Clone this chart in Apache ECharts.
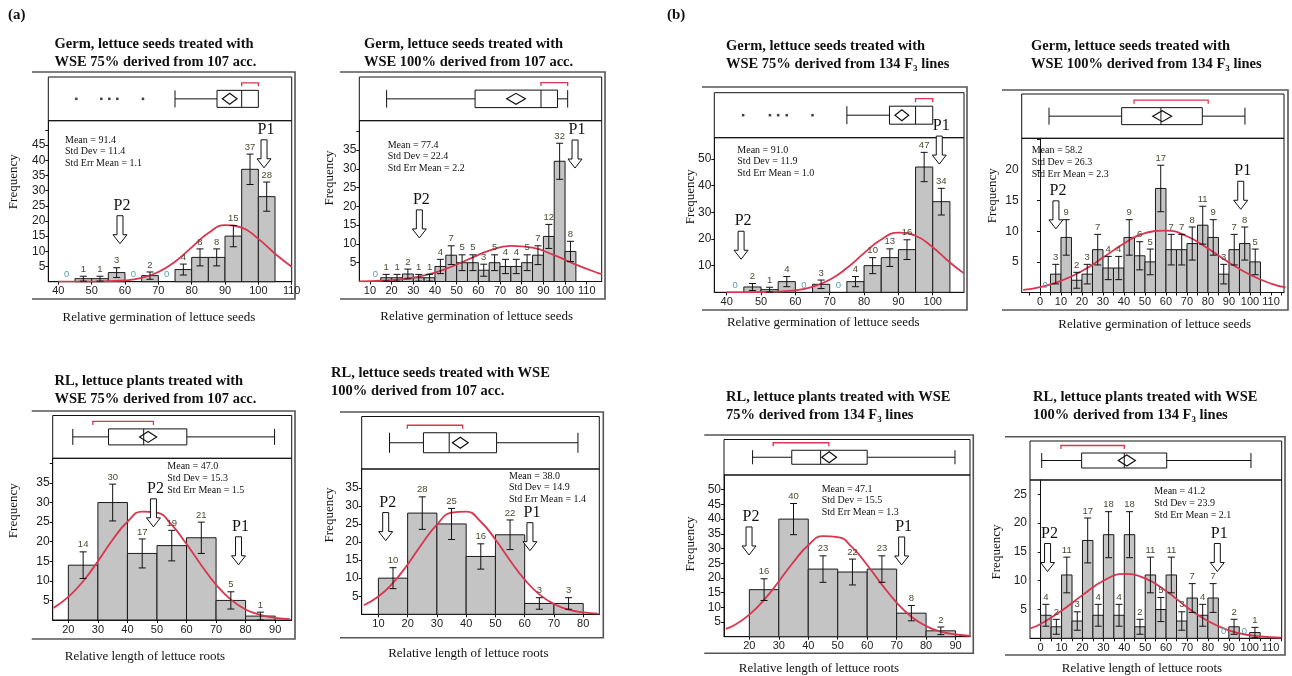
<!DOCTYPE html>
<html>
<head>
<meta charset="utf-8">
<script src="https://cdn.jsdelivr.net/npm/echarts@6.0.0/dist/echarts.min.js"></script>
<style>
  html, body { margin: 0; padding: 0; background: #fff; }
  #chart-container { width: 1292px; height: 676px; }
</style>
</head>
<body>
<div id="chart-container"></div>
<script>
var SERIF = "'Liberation Serif', 'Times New Roman', serif";
var SANS = "'Liberation Sans Narrow', 'Liberation Sans', Arial, sans-serif";

// ---------- (a) Germ, WSE 75%, 107 acc.
var a1Bins = [40, 45, 50, 55, 60, 65, 70, 75, 80, 85, 90, 95, 100];
var a1Counts = [0, 1, 1, 3, 0, 2, 0, 4, 8, 8, 15, 37, 28];
var a1Err = [0, 0.8, 0.8, 1.6, 0, 1.2, 0, 1.8, 2.8, 2.8, 3.5, 5, 4.8];
var a1CurveX = [40, 50, 60, 65, 70, 75, 80, 85, 90, 95, 100, 105, 110];
var a1CurveY = [0, 0.03, 0.43, 1.28, 3.2, 6.6, 11.3, 16.0, 18.6, 17.8, 14.1, 9.2, 4.9];
var a1Box = [75, 87.6, 95, 100, 100]; // whisker low, q1, median, q3, whisker high
var a1Diamond = [89.2, 91.4, 93.6];
var a1Short = [95, 100];
var a1Outliers = [45.4, 52.9, 55.3, 57.7, 65.4];
var a1Stats = [91.4, 11.4, 1.1];
var a1Arrows = [['P2', 58.5, 12.5], ['P1', 101.7, 37.5]];
var a1XTicks = [40, 50, 60, 70, 80, 90, 100, 110];
var a1YTicks = [5, 10, 15, 20, 25, 30, 35, 40, 45, 50];
var a1YLabels = [5, 10, 15, 20, 25, 30, 35, 40, 45];

// ---------- (a) Germ, WSE 100%, 107 acc.
var a2Bins = [10, 15, 20, 25, 30, 35, 40, 45, 50, 55, 60, 65, 70, 75, 80, 85, 90, 95, 100];
var a2Counts = [0, 1, 1, 2, 1, 1, 4, 7, 5, 5, 3, 5, 4, 4, 5, 7, 12, 32, 8];
var a2Err = [0, 0.9, 0.9, 1.3, 0.9, 0.9, 1.9, 2.5, 2.1, 2.1, 1.6, 2.1, 1.9, 1.9, 2.1, 2.5, 3.2, 4.8, 2.7];
var a2CurveX = [5, 15, 25, 35, 45, 55, 65, 75, 85, 95, 105, 115, 117];
var a2CurveY = [0.05, 0.2, 0.62, 1.6, 3.35, 5.8, 8.2, 9.5, 9.0, 7.0, 4.5, 2.3, 2.0];
var a2Box = [17.7, 58.5, 88.9, 96.5, 101.2];
var a2Diamond = [73.1, 77.4, 81.7];
var a2Short = [88.9, 101.2];
var a2Outliers = [];
var a2Stats = [77.4, 22.4, 2.2];
var a2Arrows = [['P2', 32.8, 11.6], ['P1', 104.6, 30.2]];
var a2XTicks = [10, 20, 30, 40, 50, 60, 70, 80, 90, 100, 110];
var a2YTicks = [5, 10, 15, 20, 25, 30, 35, 40];
var a2YLabels = [5, 10, 15, 20, 25, 30, 35];

// ---------- (b) Germ, WSE 75%, 134 F3
var b1Bins = [40, 45, 50, 55, 60, 65, 70, 75, 80, 85, 90, 95, 100];
var b1Counts = [0, 2, 1, 4, 0, 3, 0, 4, 10, 13, 16, 47, 34];
var b1Err = [0, 1.3, 0.9, 1.9, 0, 1.6, 0, 1.9, 3, 3.3, 3.7, 5.5, 5];
var b1CurveX = [40, 50, 60, 65, 70, 75, 80, 85, 90, 95, 100, 105, 109];
var b1CurveY = [0, 0.06, 0.76, 2.06, 4.7, 9.1, 14.7, 19.8, 22.4, 21.2, 16.9, 11.2, 7.2];
var b1Box = [75, 87.4, 95, 100, 100];
var b1Diamond = [89, 91, 93];
var b1Short = [95, 100];
var b1Outliers = [44.8, 52.6, 55, 57.5, 65];
var b1Stats = [91.0, 11.9, 1.0];
var b1Arrows = [['P2', 44.2, 12.4], ['P1', 101.9, 48.1]];
var b1XTicks = [40, 50, 60, 70, 80, 90, 100];
var b1YTicks = [10, 20, 30, 40, 50];
var b1YLabels = [10, 20, 30, 40, 50];

// ---------- (b) Germ, WSE 100%, 134 F3
var b2Bins = [0, 5, 10, 15, 20, 25, 30, 35, 40, 45, 50, 55, 60, 65, 70, 75, 80, 85, 90, 95, 100];
var b2Counts = [0, 3, 9, 2, 3, 7, 4, 4, 9, 6, 5, 17, 7, 7, 8, 11, 9, 3, 7, 8, 5];
var b2Err = [0, 1.6, 2.9, 1.3, 1.6, 2.5, 1.9, 1.9, 2.9, 2.3, 2.1, 3.8, 2.5, 2.5, 2.7, 3.1, 2.9, 1.6, 2.5, 2.7, 2.1];
var b2CurveX = [-8, 0, 10, 20, 30, 40, 50, 60, 70, 80, 90, 100, 110, 117];
var b2CurveY = [0.43, 0.88, 1.9, 3.5, 5.7, 8.0, 9.7, 10.1, 9.2, 7.2, 4.9, 2.9, 1.46, 0.83];
var b2Box = [4.3, 38.9, 57.6, 77.3, 97.6];
var b2Diamond = [53.7, 58.2, 62.7];
var b2Short = [44.8, 80.1];
var b2Outliers = [];
var b2Stats = [58.2, 26.3, 2.3];
var b2Arrows = [['P2', 7.6, 10.4], ['P1', 95.6, 13.6]];
var b2XTicks = [-5, 0, 5, 10, 15, 20, 25, 30, 35, 40, 45, 50, 55, 60, 65, 70, 75, 80, 85, 90, 95, 100, 105, 110, 115];
var b2XLabels = [0, 10, 20, 30, 40, 50, 60, 70, 80, 90, 100, 110];
var b2YTicks = [5, 10, 15, 20, 25];
var b2YLabels = [5, 10, 15, 20];

// ---------- (a) RL, WSE 75%, 107 acc.
var a3Bins = [20, 30, 40, 50, 60, 70, 80];
var a3Counts = [14, 30, 17, 19, 21, 5, 1];
var a3Err = [3.4, 4.7, 3.7, 3.9, 4, 2.2, 1];
var a3CurveX = [15, 20, 25, 30, 35, 40, 45, 50, 55, 60, 65, 70, 75, 80, 85, 90, 95];
var a3CurveY = [3.1, 5.9, 9.9, 15.0, 20.5, 25.1, 27.7, 27.4, 24.3, 19.4, 14.0, 9.0, 5.2, 2.7, 1.3, 0.54, 0.2];
var a3Box = [21.5, 33.6, 45.5, 60.1, 89.8];
var a3Diamond = [44.1, 47.0, 49.9];
var a3Short = [28.3, 48.8];
var a3Outliers = [];
var a3Stats = [47.0, 15.3, 1.5];
var a3Arrows = [['P2', 48.8, 23.8], ['P1', 77.6, 14.1]];
var a3XTicks = [20, 30, 40, 50, 60, 70, 80, 90];
var a3YTicks = [5, 10, 15, 20, 25, 30, 35, 40];
var a3YLabels = [5, 10, 15, 20, 25, 30, 35];

// ---------- (a) RL, WSE 100%, 107 acc.
var a4Bins = [10, 20, 30, 40, 50, 60, 70];
var a4Counts = [10, 28, 25, 16, 22, 3, 3];
var a4Err = [2.9, 4.5, 4.3, 3.5, 4.1, 1.6, 1.6];
var a4CurveX = [5, 10, 15, 20, 25, 30, 35, 40, 45, 50, 55, 60, 65, 70, 75, 80, 85];
var a4CurveY = [2.5, 4.9, 8.7, 13.8, 19.6, 24.8, 28.1, 28.4, 25.6, 20.7, 14.9, 9.6, 5.5, 2.85, 1.3, 0.54, 0.2];
var a4Box = [13.8, 25.4, 34.2, 50.4, 78.2];
var a4Diamond = [35.3, 38.0, 40.7];
var a4Short = [19.9, 38.8];
var a4Outliers = [];
var a4Stats = [38.0, 14.9, 1.4];
var a4Arrows = [['P2', 12.5, 20.4], ['P1', 61.8, 17.6]];
var a4XTicks = [10, 20, 30, 40, 50, 60, 70, 80];
var a4YTicks = [5, 10, 15, 20, 25, 30, 35];
var a4YLabels = [5, 10, 15, 20, 25, 30, 35];

// ---------- (b) RL, WSE 75%, 134 F3
var b3Bins = [20, 30, 40, 50, 60, 70, 80];
var b3Counts = [16, 40, 23, 22, 23, 8, 2];
var b3Err = [3.7, 5.3, 4.5, 4.4, 4.5, 2.6, 1.3];
var b3CurveX = [12, 15, 20, 25, 30, 35, 40, 45, 50, 55, 60, 65, 70, 75, 80, 85, 90, 95];
var b3CurveY = [2.65, 4.0, 7.5, 12.5, 18.8, 25.4, 31.1, 34.2, 33.9, 30.3, 24.4, 17.7, 11.6, 6.8, 3.6, 1.7, 0.75, 0.29];
var b3Box = [21.1, 34.4, 44.2, 60, 89.8];
var b3Diamond = [44.6, 47.1, 49.6];
var b3Short = [28.1, 47];
var b3Outliers = [];
var b3Stats = [47.1, 15.5, 1.3];
var b3Arrows = [['P2', 19.9, 27.8], ['P1', 71.7, 24.4]];
var b3XTicks = [20, 30, 40, 50, 60, 70, 80, 90];
var b3YTicks = [5, 10, 15, 20, 25, 30, 35, 40, 45, 50];
var b3YLabels = [5, 10, 15, 20, 25, 30, 35, 40, 45, 50];

// ---------- (b) RL, WSE 100%, 134 F3
var b4Bins = [0, 5, 10, 15, 20, 25, 30, 35, 40, 45, 50, 55, 60, 65, 70, 75, 80, 85, 90, 95, 100];
var b4Counts = [4, 2, 11, 3, 17, 4, 18, 4, 18, 2, 11, 5, 11, 3, 7, 4, 7, 0, 2, 0, 1];
var b4Err = [1.9, 1.3, 3.1, 1.6, 3.9, 1.9, 4, 1.9, 4, 1.3, 3.1, 2.1, 3.1, 1.6, 2.5, 1.9, 2.5, 0, 1.3, 0, 0.9];
var b4CurveX = [-5, 0, 10, 20, 30, 40, 50, 60, 70, 80, 90, 100, 110, 115];
var b4CurveY = [1.73, 2.5, 4.8, 7.5, 10.0, 11.2, 10.4, 8.2, 5.4, 3.0, 1.39, 0.54, 0.18, 0.1];
var b4Box = [0.5, 19.6, 40, 60.3, 100.6];
var b4Diamond = [37.1, 41.2, 45.3];
var b4Short = [9.7, 40];
var b4Outliers = [];
var b4Stats = [41.2, 23.9, 2.1];
var b4Arrows = [['P2', 3.3, 11.6], ['P1', 84.5, 11.6]];
var b4XTicks = [0, 5, 10, 15, 20, 25, 30, 35, 40, 45, 50, 55, 60, 65, 70, 75, 80, 85, 90, 95, 100, 105, 110, 115];
var b4XLabels = [0, 10, 20, 30, 40, 50, 60, 70, 80, 90, 100, 110];
var b4YTicks = [5, 10, 15, 20, 25];
var b4YLabels = [5, 10, 15, 20, 25];

var GERM = 'Relative germination of lettuce seeds';
var ROOT = 'Relative length of lettuce roots';

// layout: frame [x0, x1, top, bottom], plot [left, right, boxTop, separator, baseline]
var panels = [
  { bins: a1Bins, w: 5, counts: a1Counts, err: a1Err, cx: a1CurveX, cy: a1CurveY, box: a1Box, dia: a1Diamond,
    short: a1Short, outl: a1Outliers, stats: a1Stats, arrows: a1Arrows, xTicks: a1XTicks, xLabels: a1XTicks,
    yTicks: a1YTicks, yLabels: a1YLabels, xMin: 37, xMax: 110, yMax: 53,
    frame: [32, 295, 72, 299], plot: [48.3, 291.7, 77, 120.7, 281.7], boxH: 17,
    title: 'Germ, lettuce seeds treated with\nWSE 75% derived from 107 acc.', titlePos: [54.5, 44],
    xName: GERM, xNamePos: [159, 318], yNamePos: [13.3, 181.7], statsPos: [65, 140] },
  { bins: a2Bins, w: 5, counts: a2Counts, err: a2Err, cx: a2CurveX, cy: a2CurveY, box: a2Box, dia: a2Diamond,
    short: a2Short, outl: a2Outliers, stats: a2Stats, arrows: a2Arrows, xTicks: a2XTicks, xLabels: a2XTicks,
    yTicks: a2YTicks, yLabels: a2YLabels, xMin: 5.1, xMax: 116.9, yMax: 42.8,
    frame: [340, 605, 72, 299], plot: [359.3, 601.7, 77, 120.7, 281.5], boxH: 17.5,
    title: 'Germ, lettuce seeds treated with\nWSE 100% derived from 107 acc.', titlePos: [364, 44],
    xName: GERM, xNamePos: [476.7, 316.7], yNamePos: [330, 178], statsPos: [387.7, 145] },
  { bins: b1Bins, w: 5, counts: b1Counts, err: b1Err, cx: b1CurveX, cy: b1CurveY, box: b1Box, dia: b1Diamond,
    short: b1Short, outl: b1Outliers, stats: b1Stats, arrows: b1Arrows, xTicks: b1XTicks, xLabels: b1XTicks,
    yTicks: b1YTicks, yLabels: b1YLabels, xMin: 36.4, xMax: 109.1, yMax: 58,
    frame: [702, 967, 87, 310], plot: [714.3, 964, 92.7, 137.7, 292.3], boxH: 18,
    title: 'Germ, lettuce seeds treated with\nWSE 75% derived from 134 F{sub|3} lines', titlePos: [726, 46],
    xName: GERM, xNamePos: [823.3, 322.3], yNamePos: [690.7, 196.7], statsPos: [737.3, 150] },
  { bins: b2Bins, w: 5, counts: b2Counts, err: b2Err, cx: b2CurveX, cy: b2CurveY, box: b2Box, dia: b2Diamond,
    short: b2Short, outl: b2Outliers, stats: b2Stats, arrows: b2Arrows, xTicks: b2XTicks, xLabels: b2XLabels,
    yTicks: b2YTicks, yLabels: b2YLabels, xMin: -8.7, xMax: 116.2, yMax: 25.2,
    frame: [1002, 1288, 90, 310], plot: [1021.7, 1284, 94, 138.3, 292.5], boxH: 17,
    title: 'Germ, lettuce seeds treated with\nWSE 100% derived from 134 F{sub|3} lines', titlePos: [1031, 46],
    xName: GERM, xNamePos: [1154.7, 325], yNamePos: [993, 195.7], statsPos: [1031.7, 150.7] },
  { bins: a3Bins, w: 10, counts: a3Counts, err: a3Err, cx: a3CurveX, cy: a3CurveY, box: a3Box, dia: a3Diamond,
    short: a3Short, outl: a3Outliers, stats: a3Stats, arrows: a3Arrows, xTicks: a3XTicks, xLabels: a3XTicks,
    yTicks: a3YTicks, yLabels: a3YLabels, xMin: 14.7, xMax: 95.6, yMax: 41.3,
    frame: [31.7, 295, 411, 639], plot: [52.7, 291.7, 415.5, 458.3, 620], boxH: 16,
    title: 'RL, lettuce plants treated with\nWSE 75% derived from 107 acc.', titlePos: [54.5, 381],
    xName: ROOT, xNamePos: [145, 656.7], yNamePos: [13.3, 510.7], statsPos: [167.3, 466.7] },
  { bins: a4Bins, w: 10, counts: a4Counts, err: a4Err, cx: a4CurveX, cy: a4CurveY, box: a4Box, dia: a4Diamond,
    short: a4Short, outl: a4Outliers, stats: a4Stats, arrows: a4Arrows, xTicks: a4XTicks, xLabels: a4XTicks,
    yTicks: a4YTicks, yLabels: a4YLabels, xMin: 4.3, xMax: 85.5, yMax: 40.2,
    frame: [340, 603.3, 412, 637.7], plot: [361.7, 599.3, 416.5, 469, 614.3], boxH: 20,
    title: 'RL, lettuce seeds treated with WSE\n100% derived from 107 acc.', titlePos: [331, 373],
    xName: ROOT, xNamePos: [468.3, 653.3], yNamePos: [330, 515], statsPos: [509, 476] },
  { bins: b3Bins, w: 10, counts: b3Counts, err: b3Err, cx: b3CurveX, cy: b3CurveY, box: b3Box, dia: b3Diamond,
    short: b3Short, outl: b3Outliers, stats: b3Stats, arrows: b3Arrows, xTicks: b3XTicks, xLabels: b3XTicks,
    yTicks: b3YTicks, yLabels: b3YLabels, xMin: 11.4, xMax: 94.9, yMax: 55,
    frame: [704.3, 973.3, 435, 653.3], plot: [724, 970, 439.5, 475, 636.7], boxH: 14,
    title: 'RL, lettuce plants treated with WSE\n75% derived from 134 F{sub|3} lines', titlePos: [726, 397],
    xName: ROOT, xNamePos: [819, 668.3], yNamePos: [690.7, 544], statsPos: [821.7, 489] },
  { bins: b4Bins, w: 5, counts: b4Counts, err: b4Err, cx: b4CurveX, cy: b4CurveY, box: b4Box, dia: b4Diamond,
    short: b4Short, outl: b4Outliers, stats: b4Stats, arrows: b4Arrows, xTicks: b4XTicks, xLabels: b4XLabels,
    yTicks: b4YTicks, yLabels: b4YLabels, xMin: -5.1, xMax: 115.3, yMax: 27.5,
    frame: [1005, 1285, 436.7, 655], plot: [1030, 1281.7, 441, 480, 638.3], boxH: 15,
    title: 'RL, lettuce plants treated with WSE\n100% derived from 134 F{sub|3} lines', titlePos: [1033, 397],
    xName: ROOT, xNamePos: [1142, 668.3], yNamePos: [996.7, 552], statsPos: [1154.3, 491.7] }
];

var dom = document.getElementById('chart-container');
var myChart = echarts.init(dom, null, { renderer: 'canvas' });

function renderBar(params, api) {
  var v = api.value(2);
  if (!v) return;
  var p0 = api.coord([api.value(0), v]);
  var p1 = api.coord([api.value(1), 0]);
  return {
    type: 'rect',
    shape: { x: p0[0], y: p0[1], width: p1[0] - p0[0], height: p1[1] - p0[1] },
    style: { fill: '#c4c4c4', stroke: '#1a1a1a', lineWidth: 1 }
  };
}

function renderErr(params, api) {
  var mid = api.value(0), v = api.value(1), e = api.value(2);
  var kids = [];
  var labelY;
  if (v > 0) {
    var hi = api.coord([mid, v + e]), lo = api.coord([mid, Math.max(v - e, 0)]);
    var st = { stroke: '#111', lineWidth: 1 };
    kids.push({ type: 'line', shape: { x1: hi[0], y1: hi[1], x2: lo[0], y2: lo[1] }, style: st });
    kids.push({ type: 'line', shape: { x1: hi[0] - 3.5, y1: hi[1], x2: hi[0] + 3.5, y2: hi[1] }, style: st });
    kids.push({ type: 'line', shape: { x1: lo[0] - 3.5, y1: lo[1], x2: lo[0] + 3.5, y2: lo[1] }, style: st });
    labelY = hi[1] - 2;
  } else {
    labelY = api.coord([mid, 0])[1] - 2;
  }
  kids.push({
    type: 'text', x: api.coord([mid, 0])[0], y: labelY,
    style: { text: String(v), align: 'center', verticalAlign: 'bottom',
      font: '9.5px ' + SANS, fill: v > 0 ? '#4d4a33' : '#5b9cb3' }
  });
  return { type: 'group', children: kids };
}

function makeArrowRender(p) {
  return function (params, api) {
    var a = p.arrows[params.dataIndex];
    var t = api.coord([a[1], a[2]]);
    var x = t[0], y = t[1];
    return { type: 'group', children: [
      { type: 'polygon',
        shape: { points: [[x, y], [x - 7, y - 9], [x - 3, y - 9], [x - 3, y - 28], [x + 3, y - 28], [x + 3, y - 9], [x + 7, y - 9]] },
        style: { fill: '#fff', stroke: '#111', lineWidth: 1 } },
      { type: 'text', x: x + 2, y: y - 30,
        style: { text: a[0], align: 'center', verticalAlign: 'bottom', font: '16px ' + SERIF, fill: '#111' } }
    ] };
  };
}

function makeBoxRender(p) {
  return function (params, api) {
    var b = p.box, h = p.boxH / 2;
    var cy = api.coord([b[0], 0.5])[1];
    var X = function (v) { return api.coord([v, 0.5])[0]; };
    var st = { stroke: '#111', lineWidth: 1 };
    var ln = function (x1, y1, x2, y2) { return { type: 'line', shape: { x1: x1, y1: y1, x2: x2, y2: y2 }, style: st }; };
    var kids = [];
    kids.push(ln(X(b[0]), cy, X(b[1]), cy));
    kids.push(ln(X(b[0]), cy - h, X(b[0]), cy + h));
    if (b[4] > b[3]) {
      kids.push(ln(X(b[3]), cy, X(b[4]), cy));
      kids.push(ln(X(b[4]), cy - h, X(b[4]), cy + h));
    }
    kids.push({ type: 'rect', shape: { x: X(b[1]), y: cy - h, width: X(b[3]) - X(b[1]), height: 2 * h },
      style: { fill: '#fff', stroke: '#111', lineWidth: 1 } });
    kids.push(ln(X(b[2]), cy - h, X(b[2]), cy + h));
    var dh = 5.5;
    kids.push({ type: 'polygon',
      shape: { points: [[X(p.dia[0]), cy], [X(p.dia[1]), cy - dh], [X(p.dia[2]), cy], [X(p.dia[1]), cy + dh]] },
      style: { fill: 'none', stroke: '#111', lineWidth: 1.2 } });
    var by = cy - h - 7.5;
    kids.push({ type: 'polyline',
      shape: { points: [[X(p.short[0]), by + 3.5], [X(p.short[0]), by], [X(p.short[1]), by], [X(p.short[1]), by + 3.5]] },
      style: { stroke: '#d9364f', lineWidth: 1.3, fill: null } });
    return { type: 'group', children: kids };
  };
}

var grids = [], xAxes = [], yAxes = [], series = [], graphics = [];

panels.forEach(function (p, i) {
  var L = p.plot[0], R = p.plot[1], T = p.plot[2], S = p.plot[3], B = p.plot[4];
  var gb = 2 * i, gh = 2 * i + 1;
  grids.push({ left: L, top: T, width: R - L, height: S - T, show: true, borderColor: '#111', borderWidth: 1 });
  grids.push({ left: L, top: S, width: R - L, height: B - S, show: true, borderColor: '#111', borderWidth: 1 });

  xAxes.push({ gridIndex: gb, type: 'value', min: p.xMin, max: p.xMax, show: false });
  yAxes.push({ gridIndex: gb, type: 'value', min: 0, max: 1, show: false });
  xAxes.push({
    gridIndex: gh, type: 'value', min: p.xMin, max: p.xMax,
    axisLine: { show: true, onZero: false, lineStyle: { color: '#111', width: 1 } },
    axisTick: { show: true, length: 3, customValues: p.xTicks, lineStyle: { color: '#111' } },
    axisLabel: { customValues: p.xLabels, margin: 4, fontSize: 11, color: '#222', fontFamily: SANS },
    splitLine: { show: false }
  });
  yAxes.push({
    gridIndex: gh, type: 'value', min: 0, max: p.yMax,
    axisLine: { show: true, lineStyle: { color: '#111', width: 1 } },
    axisTick: { show: true, length: 3, customValues: p.yTicks, lineStyle: { color: '#111' } },
    axisLabel: { customValues: p.yLabels, margin: 3, fontSize: 12, color: '#222', fontFamily: SANS },
    splitLine: { show: false }
  });

  series.push({
    type: 'custom', xAxisIndex: gh, yAxisIndex: gh, z: 2, silent: true,
    data: p.bins.map(function (b, k) { return [b, b + p.w, p.counts[k]]; }),
    encode: { x: [0, 1], y: 2 }, renderItem: renderBar
  });
  series.push({
    type: 'line', xAxisIndex: gh, yAxisIndex: gh, z: 3, silent: true,
    data: p.cx.map(function (x, k) { return [x, p.cy[k]]; }),
    smooth: true, showSymbol: false, clip: true,
    lineStyle: { color: '#d8354f', width: 1.8 }
  });
  series.push({
    type: 'custom', xAxisIndex: gh, yAxisIndex: gh, z: 4, silent: true,
    data: p.bins.map(function (b, k) { return [b + p.w / 2, p.counts[k], p.err[k]]; }),
    encode: { x: 0, y: 1 }, renderItem: renderErr
  });
  series.push({
    type: 'custom', xAxisIndex: gh, yAxisIndex: gh, z: 5, silent: true,
    data: p.arrows.map(function (a) { return [a[1], a[2]]; }),
    encode: { x: 0, y: 1 }, renderItem: makeArrowRender(p)
  });
  series.push({
    type: 'custom', xAxisIndex: gb, yAxisIndex: gb, z: 3, silent: true,
    data: [[p.box[0], 0.5]], encode: { x: 0, y: 1 }, renderItem: makeBoxRender(p)
  });
  if (p.outl.length) {
    series.push({
      type: 'scatter', xAxisIndex: gb, yAxisIndex: gb, silent: true,
      data: p.outl.map(function (v) { return [v, 0.5]; }),
      symbol: 'rect', symbolSize: [2.5, 2.5], itemStyle: { color: '#111' }
    });
  }

  var f = p.frame;
  graphics.push({ type: 'polyline', silent: true,
    shape: { points: [[f[0], f[2]], [f[1], f[2]], [f[1], f[3]], [f[0], f[3]]] },
    style: { stroke: '#555', lineWidth: 1.6, fill: null } });
  graphics.push({ type: 'text', x: p.titlePos[0], y: p.titlePos[1] - 9, silent: true,
    style: { text: p.title, fontSize: 14.5, fontWeight: 'bold', fontFamily: SERIF, lineHeight: 18,
      fill: '#111', align: 'left', verticalAlign: 'top',
      rich: { sub: { fontSize: 9, fontWeight: 'bold', fontFamily: SERIF, verticalAlign: 'bottom', lineHeight: 10 } } } });
  graphics.push({ type: 'text', x: p.xNamePos[0], y: p.xNamePos[1], silent: true,
    style: { text: p.xName, font: '13px ' + SERIF, fill: '#111', align: 'center', verticalAlign: 'middle' } });
  graphics.push({ type: 'text', x: p.yNamePos[0], y: p.yNamePos[1], rotation: Math.PI / 2, silent: true,
    style: { text: 'Frequency', font: '13px ' + SERIF, fill: '#111', align: 'center', verticalAlign: 'middle' } });
  graphics.push({ type: 'text', x: p.statsPos[0], y: p.statsPos[1] - 6, silent: true,
    style: { text: 'Mean = ' + p.stats[0].toFixed(1) + '\nStd Dev = ' + p.stats[1].toFixed(1) +
      '\nStd Err Mean = ' + p.stats[2].toFixed(1),
      font: '10px ' + SERIF, lineHeight: 11.8, fill: '#111', align: 'left', verticalAlign: 'top' } });
});

graphics.push({ type: 'text', x: 8, y: 15, style: { text: '(a)', font: 'bold 15px ' + SERIF, fill: '#111', verticalAlign: 'middle' } });
graphics.push({ type: 'text', x: 667, y: 15, style: { text: '(b)', font: 'bold 15px ' + SERIF, fill: '#111', verticalAlign: 'middle' } });

var option = {
  animation: false,
  backgroundColor: '#fff',
  grid: grids,
  xAxis: xAxes,
  yAxis: yAxes,
  series: series,
  graphic: { elements: graphics }
};

myChart.setOption(option);
window.addEventListener('resize', myChart.resize);
</script>
</body>
</html>
